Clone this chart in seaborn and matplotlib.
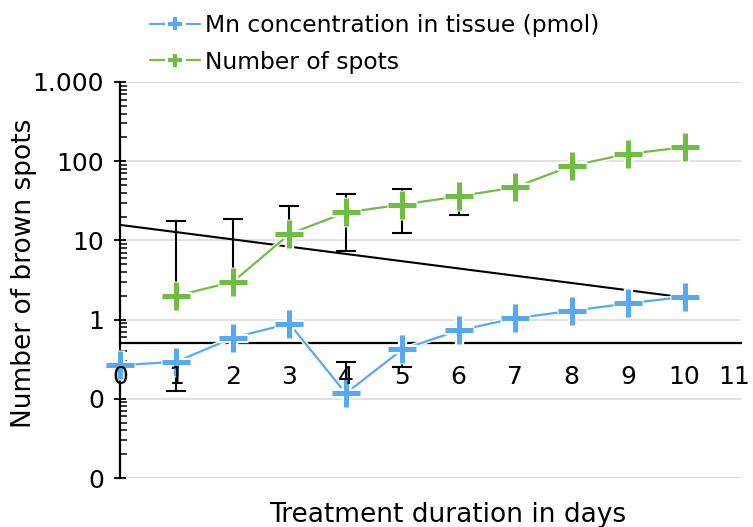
import matplotlib
matplotlib.use("Agg")
import matplotlib.pyplot as plt
import matplotlib.ticker as mticker
import matplotlib.patheffects as pe
import matplotlib.transforms as mtransforms
from matplotlib.lines import Line2D
import numpy as np
import pandas as pd
import seaborn as sns

# ---- data -------------------------------------------------------------
days = [0, 1, 2, 3, 4, 5, 6, 7, 8, 9, 10]
mn_tissue = [0.265, 0.294, 0.59, 0.89, 0.117, 0.42, 0.73, 1.04, 1.29, 1.60, 1.94]
mn_err_low = [0, 0.17, 0, 0, 0, 0.17, 0, 0, 0, 0, 0]
mn_err_up = [0, 0, 0, 0, 0.173, 0, 0, 0, 0, 0, 0]

spot_days = [1, 2, 3, 4, 5, 6, 7, 8, 9, 10]
spots = [2.0, 3.0, 12.0, 22.6, 28.3, 36.0, 46.9, 87.5, 124.0, 150.0]
spots_err_low = [0, 0, 0, 15.2, 15.9, 15.0, 0, 0, 0, 0]
spots_err_up = [15.4, 15.7, 15.5, 16.0, 16.5, 0, 0, 0, 0, 0]

trend_days = [0, 10]
trend_values = [15.7, 1.9]

series_labels = ["Mn concentration in tissue (pmol)", "Number of spots"]
x_ticks = list(range(0, 12))
y_ticks = [0.01, 0.1, 1, 10, 100, 1000]

BLUE = "#58A9F4"
GREEN = "#6EBE41"

# ---- style --------------------------------------------------------------
sns.set_theme(style="white")
plt.rcParams["font.family"] = ["DejaVu Sans"]
plt.rcParams["text.color"] = "black"

fig = plt.figure(figsize=(7.53, 5.27), dpi=100)
ax = fig.add_axes([120 / 753, 1 - 478 / 527, 621 / 753, 396 / 527])

df_mn = pd.DataFrame({"day": days, "value": mn_tissue})
df_sp = pd.DataFrame({"day": spot_days, "value": spots})

line_halo = [pe.withStroke(linewidth=3.5, foreground="white")]

# exponential trend (straight on the log axis)
ax.plot(trend_days, trend_values, color="black", lw=1.5, zorder=2.6,
        solid_capstyle="butt")


def draw_errors(xs, ys, low, up):
    ax.errorbar(xs, ys, yerr=[low, up], fmt="none", ecolor="black",
                elinewidth=1.5, capsize=7.5, capthick=1.5, zorder=2.7,
                clip_on=False)


draw_errors(spot_days, spots, spots_err_low, spots_err_up)
draw_errors(days, mn_tissue, mn_err_low, mn_err_up)

sns.lineplot(data=df_mn, x="day", y="value", ax=ax, color=BLUE, lw=1.6,
             legend=False, zorder=3, path_effects=line_halo, clip_on=False)
sns.lineplot(data=df_sp, x="day", y="value", ax=ax, color=GREEN, lw=1.6,
             legend=False, zorder=3, path_effects=line_halo, clip_on=False)

# plus markers with a white halo underneath
for xs, ys, col in [(days, mn_tissue, BLUE), (spot_days, spots, GREEN)]:
    ax.plot(xs, ys, ls="none", marker="+", ms=22.2, mew=6.8, color="white",
            zorder=4, clip_on=False)
    ax.plot(xs, ys, ls="none", marker="+", ms=19.5, mew=3.6, color=col,
            zorder=5, clip_on=False)

# ---- axes ----------------------------------------------------------------
ax.set_yscale("log")
ax.set_xlim(0, 11)
ax.set_ylim(0.01, 1000)

ax.set_xticks(x_ticks)
ax.xaxis.set_minor_locator(mticker.MultipleLocator(0.5))
ax.set_yticks(y_ticks)
ax.yaxis.set_minor_locator(mticker.LogLocator(base=10, subs=np.arange(2, 10)))
ax.yaxis.set_minor_formatter(mticker.NullFormatter())
ax.yaxis.set_major_formatter(
    mticker.FuncFormatter(lambda v, p: f"{v:,.0f}".replace(",", ".")))

for side in ["top", "right"]:
    ax.spines[side].set_visible(False)
for side in ["left", "bottom"]:
    ax.spines[side].set_color("black")
    ax.spines[side].set_linewidth(1.6)
    ax.spines[side].set_zorder(2)
ax.spines["bottom"].set_position(("data", 0.5))

ax.tick_params(axis="x", which="major", direction="inout", length=9, width=1.3,
               color="black", labelsize=18, pad=11, labelcolor="black")
ax.tick_params(axis="x", which="minor", direction="in", length=4.5, width=1.3,
               color="black")
ax.tick_params(axis="y", which="major", direction="inout", length=9, width=1.3,
               color="black", labelsize=18, pad=7, labelcolor="black",
               left=True)
ax.tick_params(axis="y", which="minor", direction="in", length=5, width=1.1,
               color="black", left=True)

ax.yaxis.grid(True, which="major", color="#D9D9D9", lw=1.1)
ax.xaxis.grid(False)
ax.yaxis.set_zorder(0.5)
ax.xaxis.set_zorder(6)

ax.set_xlabel("Treatment duration in days", fontsize=19, color="black", va="top")
ax.xaxis.set_label_coords(0.528, -0.06)
ax.set_ylabel("Number of brown spots", fontsize=19, color="black")
ax.yaxis.set_label_coords(-0.134, 0.518)

# keep the last x tick label inside the figure edge
last_label = ax.xaxis.get_major_ticks()[-1].label1
last_label.set_transform(last_label.get_transform() +
                         mtransforms.ScaledTranslation(-5 / 72, 0,
                                                       fig.dpi_scale_trans))

# ---- legend --------------------------------------------------------------
leg_halo = [pe.withStroke(linewidth=5, foreground="white", capstyle="projecting")]
handles = [
    Line2D([], [], color=c, lw=1.6, marker="+", ms=9.5, mew=3,
           path_effects=leg_halo)
    for c in (BLUE, GREEN)
]
fig.legend(handles, series_labels, loc="upper left",
           bbox_to_anchor=(150 / 753, 1 - 14 / 527), frameon=False,
           borderpad=0, borderaxespad=0, handlelength=2.15, handletextpad=0.2,
           labelspacing=0.58, fontsize=16.8)

fig.savefig("out.png", dpi=100)
